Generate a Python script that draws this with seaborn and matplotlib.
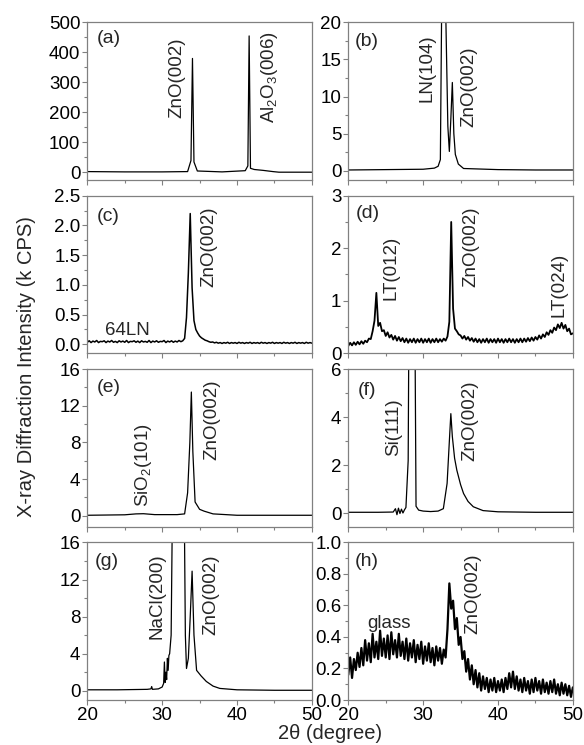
#XRD patterns of ZnO films on different substrates (8 panels)
import numpy as np
import pandas as pd
import seaborn as sns
import matplotlib.pyplot as plt
from matplotlib.ticker import MultipleLocator

#data
#(a) sapphire
a_x = [20, 25, 30, 33.4, 33.85, 34.05, 34.25, 34.7, 38, 41.1, 41.45, 41.62, 41.8, 42.3, 43.5, 44.8, 45.6, 50]
a_y = [3, 2, 2, 3, 40, 380, 35, 5, 2, 6, 22, 455, 14, 10, 7, 3, 1, 1]

#(b) LN
b_x = [20, 25, 30, 31.5, 32.0, 32.3, 32.5, 32.75, 32.95, 33.3, 33.5, 33.7, 33.9, 34.1, 34.3, 34.7, 35.4, 40, 45, 50]
b_y = [0.1, 0.15, 0.2, 0.35, 0.6, 1.5, 25, 60, 25, 6, 2.6, 7, 11.9, 5, 2.2, 0.9, 0.3, 0.15, 0.1, 0.1]

#(c), (d), (h) noisy scans, step 0.25 degree from 20 to 50
scan_2theta = np.arange(20, 50.001, 0.25)
c_y = [0.035, 0.060, 0.030, 0.055, 0.040, 0.065, 0.030, 0.050, 0.045, 0.060, 0.030, 0.055,
       0.040, 0.065, 0.035, 0.050, 0.030, 0.060, 0.040, 0.055, 0.035, 0.065, 0.030, 0.050,
       0.045, 0.060, 0.035, 0.055, 0.030, 0.060, 0.040, 0.050, 0.035, 0.065, 0.030, 0.055,
       0.040, 0.060, 0.035, 0.050, 0.045, 0.065, 0.030, 0.055, 0.040, 0.060, 0.035, 0.055,
       0.040, 0.065, 0.045, 0.060, 0.100, 0.450, 1.200, 2.200, 0.950, 0.400, 0.250, 0.190,
       0.140, 0.110, 0.090, 0.070, 0.060, 0.045, 0.035, 0.040, 0.025, 0.035, 0.020, 0.030,
       0.015, 0.030, 0.020, 0.035, 0.015, 0.030, 0.020, 0.030, 0.015, 0.035, 0.020, 0.030,
       0.015, 0.030, 0.020, 0.035, 0.015, 0.030, 0.020, 0.030, 0.015, 0.035, 0.020, 0.030,
       0.015, 0.030, 0.020, 0.035, 0.015, 0.030, 0.020, 0.030, 0.015, 0.035, 0.020, 0.030,
       0.015, 0.030, 0.020, 0.035, 0.015, 0.030, 0.020, 0.030, 0.015, 0.035, 0.020, 0.030,
       0.020]
d_y = [0.14, 0.20, 0.15, 0.21, 0.16, 0.22, 0.17, 0.23, 0.18, 0.24, 0.21, 0.28,
       0.27, 0.42, 0.62, 1.15, 0.52, 0.58, 0.42, 0.44, 0.33, 0.40, 0.30, 0.35,
       0.26, 0.33, 0.24, 0.31, 0.23, 0.29, 0.21, 0.28, 0.20, 0.27, 0.21, 0.28,
       0.20, 0.27, 0.21, 0.28, 0.20, 0.27, 0.21, 0.28, 0.20, 0.27, 0.21, 0.28,
       0.21, 0.27, 0.22, 0.28, 0.24, 0.32, 0.60, 2.50, 0.85, 0.47, 0.42, 0.36,
       0.34, 0.28, 0.33, 0.26, 0.31, 0.24, 0.29, 0.22, 0.28, 0.21, 0.27, 0.20,
       0.27, 0.21, 0.28, 0.20, 0.27, 0.21, 0.27, 0.20, 0.28, 0.21, 0.27, 0.20,
       0.27, 0.21, 0.28, 0.21, 0.27, 0.20, 0.27, 0.21, 0.28, 0.21, 0.28, 0.22,
       0.29, 0.23, 0.30, 0.24, 0.31, 0.26, 0.34, 0.28, 0.36, 0.31, 0.40, 0.35,
       0.44, 0.39, 0.49, 0.44, 0.55, 0.48, 0.58, 0.47, 0.54, 0.42, 0.47, 0.36,
       0.38]
h_y = [0.16, 0.27, 0.14, 0.26, 0.19, 0.30, 0.21, 0.33, 0.22, 0.38, 0.25, 0.36,
       0.24, 0.42, 0.27, 0.37, 0.26, 0.44, 0.28, 0.39, 0.27, 0.41, 0.26, 0.43,
       0.29, 0.38, 0.27, 0.42, 0.28, 0.37, 0.26, 0.39, 0.25, 0.36, 0.27, 0.38,
       0.24, 0.35, 0.26, 0.37, 0.23, 0.34, 0.25, 0.36, 0.24, 0.33, 0.22, 0.34,
       0.25, 0.33, 0.23, 0.32, 0.27, 0.45, 0.74, 0.58, 0.63, 0.45, 0.52, 0.35,
       0.40, 0.26, 0.31, 0.18, 0.26, 0.13, 0.22, 0.10, 0.19, 0.08, 0.17, 0.06,
       0.15, 0.07, 0.14, 0.05, 0.13, 0.06, 0.14, 0.05, 0.12, 0.06, 0.13, 0.05,
       0.14, 0.07, 0.17, 0.08, 0.18, 0.07, 0.15, 0.06, 0.13, 0.05, 0.14, 0.06,
       0.12, 0.04, 0.13, 0.05, 0.14, 0.06, 0.12, 0.04, 0.13, 0.05, 0.11, 0.04,
       0.12, 0.05, 0.13, 0.04, 0.10, 0.03, 0.11, 0.04, 0.10, 0.03, 0.09, 0.02,
       0.08]

#(e) quartz
e_x = [20, 25, 26.5, 27.5, 29, 32, 33.0, 33.4, 33.7, 33.9, 34.1, 34.4, 35.0, 35.6, 36.8, 40, 45, 50]
e_y = [0.05, 0.1, 0.2, 0.22, 0.12, 0.12, 0.2, 2.5, 8, 13.5, 7, 1.5, 0.7, 0.5, 0.2, 0.05, 0.05, 0.05]

#(f) Si
f_x = [20, 22, 24, 26, 26.3, 26.5, 26.7, 26.9, 27.1, 27.3, 27.5, 27.7, 28.0, 28.3, 28.6, 28.9, 29.05, 29.4,
       30, 31, 32, 32.7, 33.2, 33.5, 33.7, 33.9, 34.2, 34.5, 35.0, 35.4, 36.0, 36.7, 38, 40, 45, 50]
f_y = [0.05, 0.05, 0.05, 0.06, 0.2, -0.05, 0.22, 0.0, 0.18, 0.02, 0.15, 0.25, 2.2, 20, 30, 8, 0.3, 0.14,
       0.1, 0.08, 0.1, 0.2, 1.25, 3.0, 4.15, 3.2, 2.3, 1.8, 1.2, 0.83, 0.5, 0.28, 0.12, 0.07, 0.05, 0.05]

#(g) NaCl
g_x = [20, 24, 28, 28.5, 28.6, 28.7, 29.5, 30.0, 30.2, 30.3, 30.4, 30.5, 30.6, 30.7, 30.8, 30.9, 31.0,
       31.2, 31.5, 32.0, 32.5, 32.9, 33.1, 33.25, 33.5, 33.75, 34.0, 34.25, 34.6, 35.2, 35.9, 36.8, 37.7,
       40, 45, 50]
g_y = [0.1, 0.1, 0.15, 0.2, 0.45, 0.15, 0.2, 0.4, 0.8, 3.1, 0.9, 2.0, 1.2, 3.5, 2.2, 3.8, 4.0,
       6, 30, 60, 40, 25, 6, 2.4, 3.5, 8, 12.9, 6, 2.2, 1.6, 1.0, 0.5, 0.25,
       0.1, 0.05, 0.05]

panel_names = ["(a)", "(b)", "(c)", "(d)", "(e)", "(f)", "(g)", "(h)"]
panel_x = [a_x, b_x, scan_2theta, scan_2theta, e_x, f_x, g_x, scan_2theta]
panel_y = [a_y, b_y, c_y, d_y, e_y, f_y, g_y, h_y]
ylims = [(-25, 500), (-1.25, 20), (-0.15, 2.5), (0, 3), (-1.2, 16), (-0.55, 6), (-1, 16), (0, 1)]
ymajor = [100, 5, 0.5, 1, 4, 2, 4, 0.2]
yfmt = ["%d", "%d", "%.1f", "%d", "%d", "%d", "%d", "%.1f"]
line_w = [0.9, 0.9, 1.1, 1.3, 0.9, 0.9, 0.9, 1.6]
label_pos = [(0.04, 0.95), (0.03, 0.93), (0.04, 0.92), (0.035, 0.94),
             (0.04, 0.94), (0.04, 0.92), (0.035, 0.935), (0.03, 0.93)]

#peak labels: (panel, x, y_bottom, text)
peak_labels = [
    (0, 32.0, 181, "ZnO(002)"), (0, 44.4, 164, "Al$_2$O$_3$(006)"),
    (1, 30.5, 9.3, "LN(104)"), (1, 36.1, 5.9, "ZnO(002)"),
    (2, 36.2, 0.97, "ZnO(002)"),
    (3, 25.7, 1.02, "LT(012)"), (3, 36.4, 1.27, "ZnO(002)"), (3, 48.1, 0.70, "LT(024)"),
    (4, 27.5, 1.0, "SiO$_2$(101)"), (4, 36.7, 6.1, "ZnO(002)"),
    (5, 26.1, 2.4, "Si(111)"), (5, 36.3, 2.2, "ZnO(002)"),
    (6, 29.25, 5.6, "NaCl(200)"), (6, 36.5, 6.0, "ZnO(002)"),
    (7, 36.7, 0.42, "ZnO(002)"),
]

sns.set_theme(style="ticks")
plt.rcParams['font.family'] = ['Liberation Sans', 'DejaVu Sans']
plt.rcParams['mathtext.fontset'] = 'custom'
plt.rcParams['mathtext.rm'] = 'Liberation Sans'
plt.rcParams['mathtext.default'] = 'regular'

fig = plt.figure(figsize=(5.84, 7.45), dpi=100)

#axes boxes (figure fraction)
col_left = [0.1495, 0.5964]
col_w = 0.3845
row_bottom = [0.7584, 0.5258, 0.2930, 0.0604]
row_h = 0.2115

axes = []
for i in range(8):
    r, c = i // 2, i % 2
    ax = fig.add_axes([col_left[c], row_bottom[r], col_w, row_h])
    axes.append(ax)
    sns.lineplot(x=panel_x[i], y=panel_y[i], ax=ax, color="black", linewidth=line_w[i],
                 estimator=None, sort=False)
    ax.set_xlim(20, 50)
    ax.set_ylim(*ylims[i])
    ax.xaxis.set_major_locator(MultipleLocator(10))
    ax.xaxis.set_minor_locator(MultipleLocator(5))
    ax.yaxis.set_major_locator(MultipleLocator(ymajor[i]))
    ax.yaxis.set_minor_locator(MultipleLocator(ymajor[i] / 2))
    ax.yaxis.set_major_formatter(plt.FormatStrFormatter(yfmt[i]))
    ax.set_xlabel("")
    ax.set_ylabel("")
    for s in ax.spines.values():
        s.set_color("#808080")
        s.set_linewidth(0.9)
    ax.tick_params(which="both", direction="out", colors="#808080", labelcolor="black",
                   labelsize=13.5, pad=1.5, top=False, right=False)
    ax.tick_params(which="major", length=3.5, width=0.8)
    ax.tick_params(which="minor", length=2.5, width=0.8)
    if r < 3:
        ax.set_xticklabels([])
    ax.text(label_pos[i][0], label_pos[i][1], panel_names[i], transform=ax.transAxes,
            ha="left", va="top", fontsize=14)

for p, x, y, t in peak_labels:
    axes[p].text(x, y, t, rotation=90, ha="center", va="bottom", fontsize=13.5)

axes[2].text(22.4, 0.16, "64LN", ha="left", va="baseline", fontsize=13.5)
axes[7].text(22.5, 0.46, "glass", ha="left", va="baseline", fontsize=13.5)

fig.text(0.046, 0.508, "X-ray Diffraction Intensity (k CPS)", rotation=90,
         ha="center", va="center", fontsize=14.5)
fig.text(0.565, 0.016, "2θ (degree)", ha="center", va="center", fontsize=14.5)

plt.savefig("out.png", dpi=100)
